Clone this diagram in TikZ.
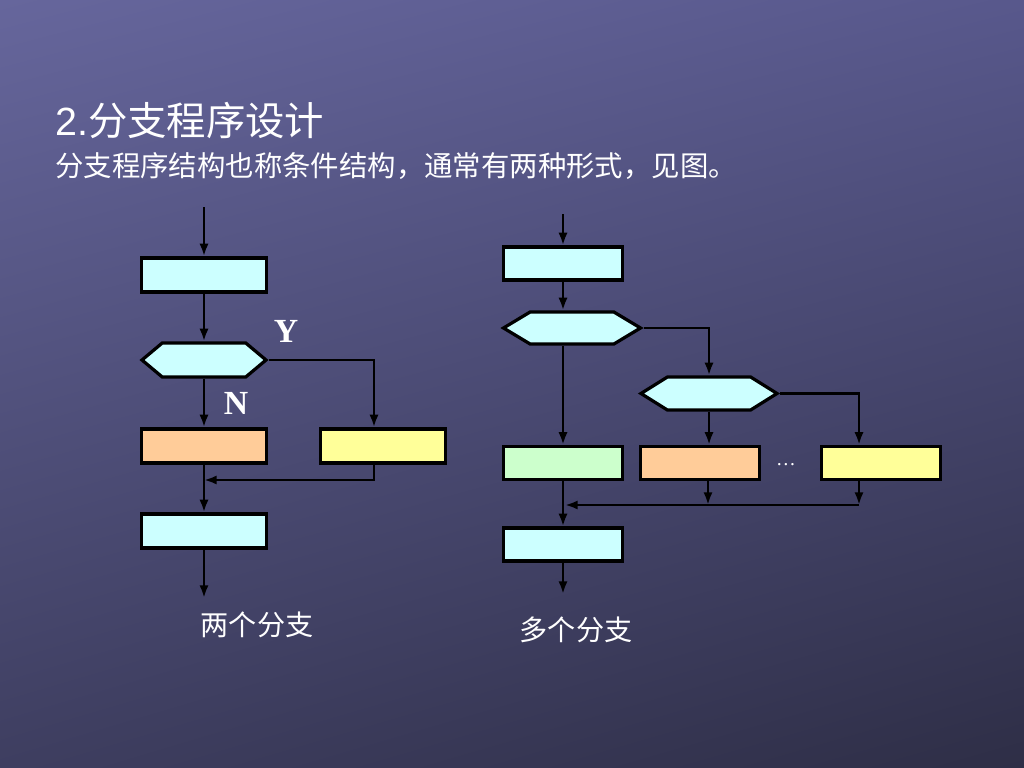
\documentclass[tikz,border=0pt]{standalone}
\usepackage{fontspec}
\setmainfont{Liberation Serif}
\newfontfamily\cjk{Noto Sans CJK SC}
\newfontfamily\arialfont{Liberation Sans}
\usetikzlibrary{arrows.meta,shapes.symbols,shadings,calc}
\definecolor{fcCyan}{HTML}{CCFFFF}
\definecolor{fcOrange}{HTML}{FFCC99}
\definecolor{fcYellow}{HTML}{FFFF99}
\definecolor{fcGreen}{HTML}{CCFFCC}
\definecolor{bgUpLeft}{HTML}{66669C}
\definecolor{bgUpRight}{HTML}{58588C}
\definecolor{bgLowLeft}{HTML}{3E3E60}
\definecolor{bgLowRight}{HTML}{2E2E46}
\tikzset{
  baseBox/.style={rectangle, draw=black, line width=2.3pt, inner sep=0pt},
  leftBox/.style={baseBox, minimum width=3.125cm, minimum height=0.85cm},
  rightBox/.style={baseBox, minimum width=2.975cm, minimum height=0.825cm},
  decideHex/.style={signal, signal to=east and west, draw=black, line width=2.3pt,
    fill=fcCyan, inner sep=0pt},
  flow/.style={-{Latex[length=9pt,width=6.5pt]}, line width=2pt},
  ynLabel/.style={font=\fontsize{24}{24}\selectfont\bfseries, text=white},
  caseLabel/.style={font=\cjk\fontsize{20}{20}\selectfont, text=white},
}

\begin{document}
\begin{tikzpicture}[x=0.025cm,y=-0.025cm]
  \useasboundingbox (0,0) rectangle (1024,768);
  \shade[upper left=bgUpLeft, upper right=bgUpRight, lower left=bgLowLeft, lower right=bgLowRight]
    (0,0) rectangle (1024,768);

  \node[anchor=west, text=white, inner sep=0pt] (title) at (55,120)
    {\fontsize{28}{28}\selectfont\arialfont 2.\cjk 分支程序设计};
  \node[anchor=west, text=white, inner sep=0pt] (subtitle) at (55,166)
    {\cjk\fontsize{20.2}{20.2}\selectfont 分支程序结构也称条件结构，通常有两种形式，见图。};

  % two branches
  \coordinate (inL) at (204,207);
  \node[leftBox, fill=fcCyan] (boxL1) at (204,275) {};
  \node[decideHex, signal pointer angle=80, minimum width=3.1cm, minimum height=0.85cm] (hexL) at (204,360) {};
  \node[leftBox, fill=fcOrange] (boxL2) at (204,446) {};
  \node[leftBox, fill=fcYellow] (boxL3) at (383,446) {};
  \node[leftBox, fill=fcCyan] (boxL4) at (204,531) {};
  \coordinate (mergeL) at (204,480);
  \coordinate (outL) at (204,598);
  \node[ynLabel] (yesL) at (286,331) {Y};
  \node[ynLabel] (noL) at (236,403) {N};
  \node[caseLabel] (twoCase) at (257,625) {两个分支};

  \draw[flow] (inL) -- (boxL1.north);
  \draw[flow] (boxL1.south) -- (hexL.north);
  \draw[flow] (hexL.south) -- (boxL2.north);
  \draw[flow] (hexL.east) -| ([xshift=-0.225cm]boxL3.north);
  \draw[flow] ([xshift=-0.225cm]boxL3.south) |- (mergeL);
  \draw[flow] (boxL2.south) -- (boxL4.north);
  \draw[flow] (boxL4.south) -- (outL);

  % several branches
  \coordinate (inR) at (563,214);
  \node[rightBox, fill=fcCyan] (boxR1) at (563,263.5) {};
  \node[decideHex, signal pointer angle=62, minimum width=3.425cm, minimum height=0.8cm] (hexR1) at (572,328) {};
  \node[decideHex, signal pointer angle=64, minimum width=3.4cm, minimum height=0.825cm] (hexR2) at (709,393.5) {};
  \node[rightBox, fill=fcGreen] (boxR2) at (563,463) {};
  \node[rightBox, fill=fcOrange] (boxR3) at (700,463) {};
  \node[rightBox, fill=fcYellow] (boxR4) at (881,463) {};
  \node[text=white, font=\fontsize{14}{14}\selectfont] (moreDots) at (786,465) {\ldots};
  \node[rightBox, fill=fcCyan] (boxR5) at (563,544.5) {};
  \coordinate (mergeR) at (563,505);
  \coordinate (hitD) at (708,505);
  \coordinate (hitE) at (859,505);
  \coordinate (outR) at (563,594);
  \node[caseLabel] (manyCase) at (576,630) {多个分支};

  \draw[flow] (inR) -- (boxR1.north);
  \draw[flow] (boxR1.south) -- (boxR1.south |- hexR1.north);
  \draw[flow] (boxR1.south |- hexR1.south) -- (boxR2.north);
  \draw[flow] (hexR1.east) -| (hexR2.north);
  \draw[flow] (hexR2.south) -- (hexR2.south |- boxR3.north);
  \draw[flow] (hexR2.east) -| (hitE |- boxR4.north);
  \draw[flow] (hitD |- boxR3.south) -- (hitD);
  \draw[flow] (hitE |- boxR4.south) -- (hitE);
  \draw[flow] (hitE) -- ([xshift=0.05cm]mergeR);
  \draw[flow] (boxR2.south) -- (boxR5.north);
  \draw[flow] (boxR5.south) -- (outR);
\end{tikzpicture}
\end{document}
